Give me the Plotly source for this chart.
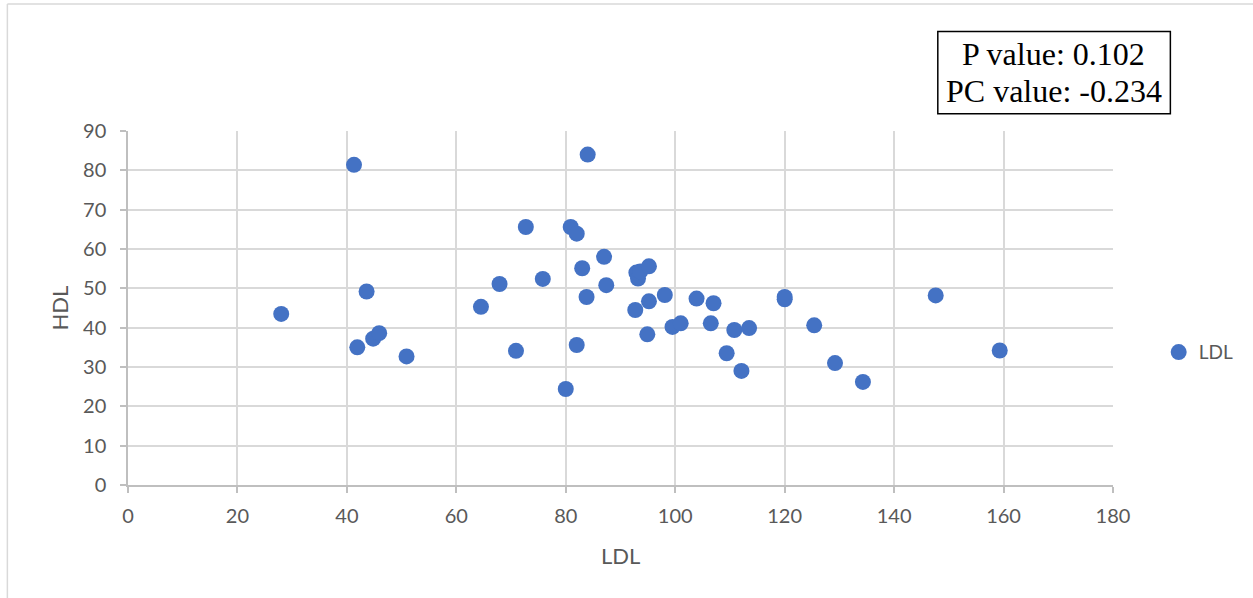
import plotly.graph_objects as go

# Data
ldl = [28.0, 41.3, 41.9, 43.6, 44.8, 45.9, 50.9, 64.5, 67.9, 70.9, 72.7, 75.8,
       80.0, 80.9, 82.0, 82.0, 83.0, 83.8, 84.0, 87.0, 87.4, 92.7, 92.9, 93.2,
       93.6, 95.2, 94.9, 95.2, 98.1, 99.5, 101.0, 103.9, 106.5, 107.0, 109.4,
       110.8, 112.1, 113.5, 120.0, 120.0, 125.4, 129.2, 134.3, 147.6, 159.3]
hdl = [43.5, 81.4, 35.0, 49.2, 37.2, 38.6, 32.7, 45.3, 51.1, 34.1, 65.6, 52.4,
       24.4, 65.6, 63.9, 35.6, 55.1, 47.8, 84.0, 58.0, 50.8, 44.5, 54.0, 52.5,
       54.3, 55.6, 38.3, 46.7, 48.3, 40.2, 41.1, 47.4, 41.1, 46.2, 33.5, 39.4,
       29.0, 39.9, 47.2, 47.8, 40.6, 31.0, 26.2, 48.2, 34.2]
x_ticks = [0, 20, 40, 60, 80, 100, 120, 140, 160, 180]
y_ticks = [0, 10, 20, 30, 40, 50, 60, 70, 80, 90]
stats_lines = ["P value: 0.102", "PC value: -0.234"]
series_name = "LDL"
x_title = "LDL"
y_title = "HDL"

W, H = 1253, 598
L, R, T, B = 127.7, 1113.3, 131.0, 484.7
PW, PH = R - L, B - T


def px(xp):
    return (xp - L) / PW


def py(yp):
    return (B - yp) / PH


GRAY = "#595959"
GRID = "#d9d9d9"
BLUE = "#4472C4"
SANS = "Lato, Liberation Sans, sans-serif"

fig = go.Figure()
fig.add_trace(go.Scatter(
    x=ldl, y=hdl, mode="markers", name=series_name,
    marker=dict(color=BLUE, size=16, line=dict(width=0)),
    showlegend=True,
))

axis_common = dict(
    showgrid=True, gridcolor=GRID, gridwidth=1.5,
    showline=True, linecolor="#bfbfbf", linewidth=1.5,
    ticks="outside", ticklen=6, tickcolor="#bfbfbf", tickwidth=1.5,
    tickfont=dict(family=SANS, size=20, color=GRAY),
    zeroline=False, fixedrange=True,
)

fig.update_layout(
    width=W, height=H,
    margin=dict(l=L, r=W - R, t=T, b=H - B, pad=0),
    paper_bgcolor="white", plot_bgcolor="white",
    xaxis=dict(range=[0, 180], tickvals=x_ticks, ticktext=[str(v) for v in x_ticks],
               ticklabelstandoff=6, **axis_common),
    yaxis=dict(range=[0, 90], tickvals=y_ticks, ticktext=[str(v) for v in y_ticks],
               ticklabelstandoff=10, **axis_common),
    showlegend=True,
    legend=dict(x=px(1159), y=py(352), xanchor="left", yanchor="middle",
                font=dict(family=SANS, size=19, color=GRAY),
                bgcolor="rgba(0,0,0,0)", borderwidth=0, itemsizing="trace"),
)

annotations = [
    dict(text=x_title, x=px(621), y=py(555), xref="paper", yref="paper",
         showarrow=False, xanchor="center", yanchor="middle",
         font=dict(family=SANS, size=22, color=GRAY)),
    dict(text=y_title, x=px(59), y=py(308), xref="paper", yref="paper",
         showarrow=False, xanchor="center", yanchor="middle", textangle=-90,
         font=dict(family=SANS, size=22, color=GRAY)),
]
line_centers = [54, 91]
for txt, cy in zip(stats_lines, line_centers):
    annotations.append(dict(
        text=txt, x=px(1054.2), y=py(cy), xref="paper", yref="paper",
        showarrow=False, xanchor="center", yanchor="middle",
        font=dict(family="Liberation Serif, Times New Roman, serif", size=32, color="black")))
fig.update_layout(annotations=annotations)

shapes = [
    # statistics box
    dict(type="rect", xref="paper", yref="paper",
         x0=px(938), x1=px(1170.7), y0=py(113.7), y1=py(31.7),
         line=dict(color="black", width=1.5), fillcolor="rgba(0,0,0,0)", layer="above"),
    # outer chart border (left and top)
    dict(type="line", xref="paper", yref="paper",
         x0=px(7), x1=px(7), y0=py(4), y1=py(620),
         line=dict(color="#d9d9d9", width=1.5)),
    dict(type="line", xref="paper", yref="paper",
         x0=px(7), x1=px(1260), y0=py(4), y1=py(4),
         line=dict(color="#d9d9d9", width=1.5)),
]
fig.update_layout(shapes=shapes)

fig.write_html("out.html", config={"displayModeBar": False},
               post_script="document.body.style.margin='0';document.body.style.overflow='hidden';")
